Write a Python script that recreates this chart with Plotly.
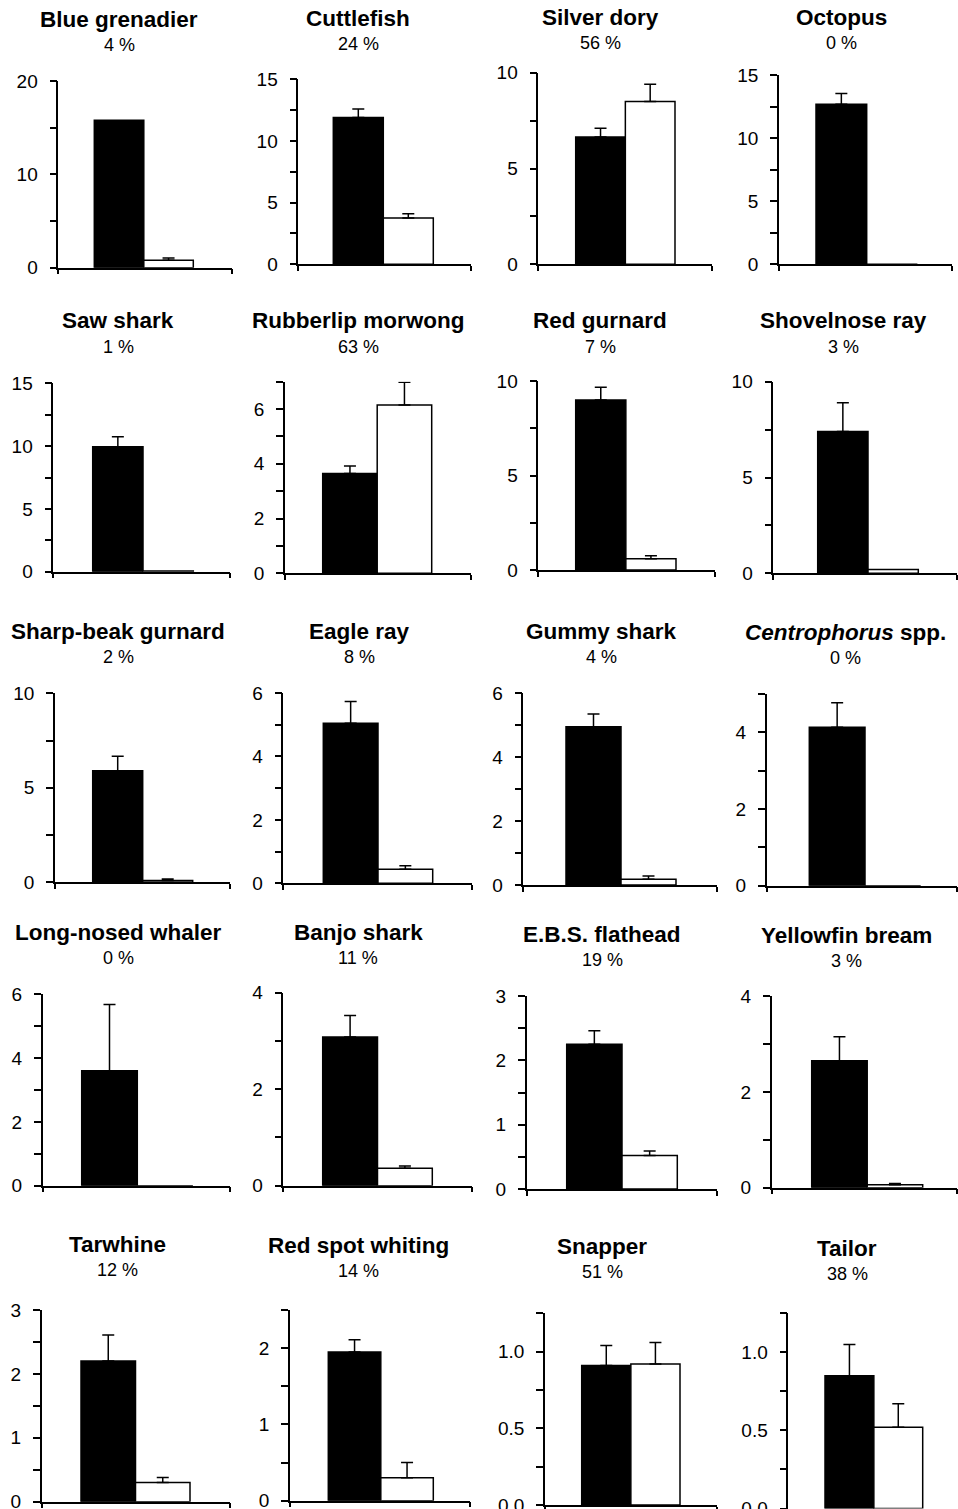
import plotly.graph_objects as go

# ---------------- data ----------------
species = [
    "Blue grenadier", "Cuttlefish", "Silver dory", "Octopus",
    "Saw shark", "Rubberlip morwong", "Red gurnard", "Shovelnose ray",
    "Sharp-beak gurnard", "Eagle ray", "Gummy shark", "<i>Centrophorus</i> spp.",
    "Long-nosed whaler", "Banjo shark", "E.B.S. flathead", "Yellowfin bream",
    "Tarwhine", "Red spot whiting", "Snapper", "Tailor",
]
percent = [4, 24, 56, 0, 1, 63, 7, 3, 2, 8, 4, 0, 0, 11, 19, 3, 12, 14, 51, 38]

black_vals = [15.8, 11.9, 6.65, 12.7, 9.95, 3.65, 9.0, 7.4, 5.9, 5.05,
              4.95, 4.13, 3.6, 3.08, 2.25, 2.65, 2.2, 1.95, 0.91, 0.85]
black_err = [None, 0.7, 0.45, 0.85, 0.8, 0.27, 0.67, 1.5, 0.77, 0.68,
             0.4, 0.64, 2.08, 0.45, 0.21, 0.5, 0.41, 0.16, 0.13, 0.2]
white_vals = [0.8, 3.75, 8.5, 0.0, 0.05, 6.15, 0.6, 0.2, 0.1, 0.44,
              0.18, 0.0, 0.0, 0.36, 0.52, 0.06, 0.3, 0.3, 0.92, 0.52]
white_err = [0.25, 0.35, 0.9, None, None, 0.83, 0.15, None, 0.08, 0.11,
             0.1, None, None, 0.05, 0.07, 0.03, 0.08, 0.2, 0.14, 0.15]

y_max = [20, 15, 10, 15, 15, 7, 10, 10, 10, 6, 6, 5, 6, 4, 3, 4, 3, 2.5, 1.25, 1.25]
y_major = [10, 5, 5, 5, 5, 2, 5, 5, 5, 2, 2, 2, 2, 2, 1, 2, 1, 1, 0.5, 0.5]
y_decimals = [0] * 18 + [1, 1]

# ---------------- layout geometry (pixels) ----------------
# (axis left, axis right, bar left, bar right, axis top, baseline, title x, title y)
geom = [
    (58.3, 231.7, 94.3, 193.3, 81.0, 267.7, 119, 19),
    (298.3, 471.0, 333.3, 433.3, 79.3, 264.3, 358, 18),
    (538.3, 711.7, 575.7, 675.0, 72.7, 264.3, 600, 17),
    (779.0, 952.0, 816.0, 917.4, 75.3, 264.3, 841, 17),
    (53.3, 230.0, 92.7, 193.3, 383.3, 571.7, 118, 321),
    (285.0, 470.7, 322.7, 431.7, 381.7, 573.3, 358, 321),
    (538.3, 715.0, 575.7, 676.0, 381.0, 570.0, 600, 321),
    (773.3, 957.0, 817.7, 918.3, 381.7, 573.3, 843, 321),
    (55.0, 230.0, 92.7, 192.7, 693.3, 882.3, 118, 631),
    (283.3, 471.7, 323.3, 432.7, 693.0, 883.3, 359, 631),
    (523.3, 716.7, 566.0, 676.0, 693.3, 885.0, 601, 631),
    (766.7, 957.0, 809.3, 920.7, 694.0, 885.7, 845, 632),
    (42.7, 230.0, 81.7, 192.9, 994.3, 1185.7, 118, 932),
    (283.3, 471.7, 322.7, 432.3, 992.7, 1185.7, 358, 932),
    (526.7, 717.3, 566.7, 677.3, 996.0, 1189.0, 602, 934),
    (771.7, 957.0, 811.7, 922.7, 996.0, 1187.7, 846, 935),
    (41.7, 230.0, 81.0, 190.0, 1310.0, 1501.7, 117, 1244),
    (290.0, 470.0, 328.3, 433.3, 1310.0, 1500.7, 358, 1245),
    (545.0, 717.3, 581.7, 680.0, 1313.3, 1505.0, 602, 1246),
    (788.3, 957.0, 825.0, 922.7, 1313.3, 1508.5, 847, 1248),
]

W, H = 958, 1509
FONT = "Liberation Sans, Arial, Helvetica, sans-serif"

fig = go.Figure()
layout_axes = {}
annotations = []

for i in range(len(species)):
    xl, xr, bl, br, top, base, tx, ty = geom[i]
    w = (br - bl) / 2.0
    xmin = -0.5 - (bl - xl) / w
    xmax = 1.5 + (xr - br) / w
    n = i + 1
    xa = "x" if n == 1 else f"x{n}"
    ya = "y" if n == 1 else f"y{n}"
    xkey = "xaxis" if n == 1 else f"xaxis{n}"
    ykey = "yaxis" if n == 1 else f"yaxis{n}"

    be = black_err[i]
    fig.add_trace(go.Bar(
        x=[0], y=[black_vals[i]], width=[1],
        marker=dict(color="black", line=dict(color="black", width=1.5)),
        error_y=dict(type="data", symmetric=False,
                     array=[be if be is not None else 0], arrayminus=[0],
                     color="black", thickness=1.5, width=6,
                     visible=be is not None),
        xaxis=xa, yaxis=ya, showlegend=False, hoverinfo="skip",
    ))
    we = white_err[i]
    fig.add_trace(go.Bar(
        x=[1], y=[white_vals[i]], width=[1],
        marker=dict(color="white", line=dict(color="black", width=1.5)),
        error_y=dict(type="data", symmetric=False,
                     array=[we if we is not None else 0], arrayminus=[0],
                     color="black", thickness=1.5, width=6,
                     visible=we is not None),
        xaxis=xa, yaxis=ya, showlegend=False, hoverinfo="skip",
    ))

    # y ticks: majors labelled, minors halfway between
    minor = y_major[i] / 2.0
    nt = int(round(y_max[i] / minor))
    tickvals, ticktext = [], []
    for k in range(nt + 1):
        v = k * minor
        tickvals.append(v)
        if k % 2 == 0:
            ticktext.append(f"{v:.{y_decimals[i]}f}")
        else:
            ticktext.append("")

    layout_axes[xkey] = dict(
        domain=[xl / W, min(xr / W, 1.0)],
        anchor=ya, range=[xmin, xmax], automargin=False,
        showline=True, linecolor="black", linewidth=1.5,
        ticks="outside", ticklen=5, tickwidth=1.5, tickcolor="black",
        tickvals=[xmin, xmax], showticklabels=False,
        showgrid=False, zeroline=False, fixedrange=True,
    )
    layout_axes[ykey] = dict(
        domain=[max(1 - base / H, 0.0), 1 - top / H],
        anchor=xa, range=[0, y_max[i]], automargin=False,
        showline=True, linecolor="black", linewidth=1.5,
        ticks="outside", ticklen=7, tickwidth=1.5, tickcolor="black",
        tickvals=tickvals, ticktext=ticktext,
        tickfont=dict(family=FONT, size=19, color="black"),
        ticklabelstandoff=8, ticklabeloverflow="allow",
        showgrid=False, zeroline=False, fixedrange=True,
    )

    annotations.append(dict(
        x=tx / W, y=1 - ty / H, xref="paper", yref="paper",
        text=f"<b>{species[i]}</b>", showarrow=False,
        xanchor="center", yanchor="middle",
        font=dict(family=FONT, size=22.5, color="black"),
    ))
    annotations.append(dict(
        x=tx / W, y=1 - (ty + 26) / H, xref="paper", yref="paper",
        text=f"{percent[i]} %", showarrow=False,
        xanchor="center", yanchor="middle",
        font=dict(family=FONT, size=18, color="black"),
    ))

fig.update_layout(
    width=W, height=H, autosize=False,
    margin=dict(l=0, r=0, t=0, b=0, pad=0),
    paper_bgcolor="white", plot_bgcolor="white",
    barmode="overlay",
    annotations=annotations,
    **layout_axes,
)

post = (
    "document.body.style.margin='0';"
    "document.body.style.padding='0';"
    "var gd=document.getElementById('{plot_id}');"
    "gd.style.width='958px';gd.style.height='1509px';"
    "Plotly.relayout(gd,{width:958,height:1509});"
)

fig.write_html(
    "out.html",
    config={"displayModeBar": False, "responsive": False},
    post_script=post,
)
